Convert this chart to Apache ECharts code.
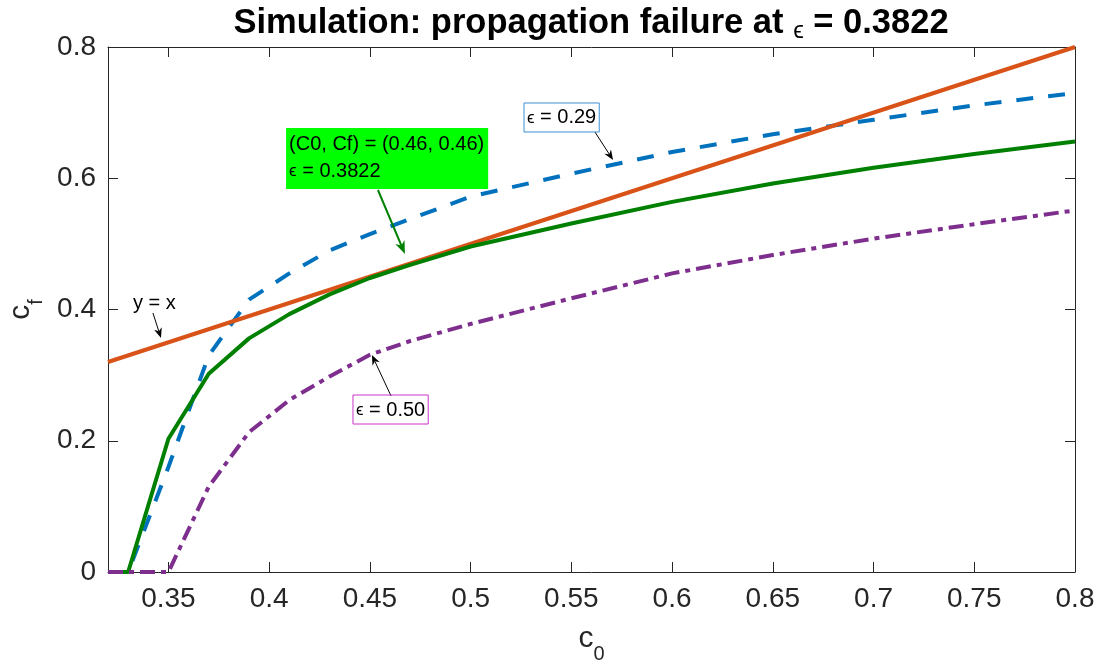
<!DOCTYPE html>
<html>
<head>
<meta charset="utf-8">
<script src="https://cdn.jsdelivr.net/npm/echarts@6/dist/echarts.min.js"></script>
<style>
  html, body { margin: 0; padding: 0; background: #ffffff; }
  #chart { width: 1100px; height: 669px; }
</style>
</head>
<body>
<div id="chart"></div>
<script>
// Initial concentration c0 sampled along the front
const c0 = [0.32, 0.33, 0.35, 0.37, 0.39, 0.41, 0.43, 0.45, 0.47, 0.50, 0.55, 0.60, 0.65, 0.70, 0.75, 0.80];
// Final concentration cf for each coupling strength epsilon
const cfEps029   = [0, 0, 0.160, 0.330, 0.415, 0.455, 0.490, 0.515, 0.538, 0.572, 0.607, 0.640, 0.667, 0.689, 0.711, 0.730];
const cfEps03822 = [0, 0, 0.203, 0.302, 0.356, 0.393, 0.423, 0.448, 0.468, 0.496, 0.531, 0.564, 0.592, 0.616, 0.637, 0.656];
const cfEps050   = [0, 0, 0,     0.130, 0.213, 0.262, 0.298, 0.331, 0.352, 0.378, 0.417, 0.455, 0.483, 0.508, 0.530, 0.551];
// Reference line y = x
const identityX = [0.32, 0.80];

// Axis ticks and their labels
const xTicks = [0.35, 0.40, 0.45, 0.50, 0.55, 0.60, 0.65, 0.70, 0.75, 0.80];
const xTickLabels = ['0.35', '0.4', '0.45', '0.5', '0.55', '0.6', '0.65', '0.7', '0.75', '0.8'];
const yTicks = [0, 0.2, 0.4, 0.6, 0.8];
const yTickLabels = ['0', '0.2', '0.4', '0.6', '0.8'];

const FONT = '"Liberation Sans", Arial, Helvetica, sans-serif';
const AXIS_COLOR = '#262626';
const EPS = '\u03F5';

function pairs(xs, ys) { return xs.map((x, i) => [x, ys[i]]); }
function lookup(ticks, labels) {
  return v => {
    const i = ticks.findIndex(t => Math.abs(t - v) < 1e-9);
    return i >= 0 ? labels[i] : '';
  };
}

const nameRich = {
  c: { fontSize: 30, lineHeight: 30, verticalAlign: 'top', color: AXIS_COLOR, fontFamily: FONT },
  s: { fontSize: 20, lineHeight: 20, padding: [20, 0, 0, 0], verticalAlign: 'top', color: AXIS_COLOR, fontFamily: FONT }
};

const axisLine = { show: true, onZero: false, lineStyle: { color: AXIS_COLOR, width: 1 } };
const labelStyle = { fontSize: 28, color: AXIS_COLOR, fontFamily: FONT };

const chart = echarts.init(document.getElementById('chart'), null, { renderer: 'canvas' });

chart.setOption({
  animation: false,
  backgroundColor: '#ffffff',
  grid: { left: 108, right: 25, top: 47, bottom: 97, containLabel: false, outerBoundsMode: 'none' },
  xAxis: [
    {
      type: 'value', min: 0.32, max: 0.8, position: 'bottom',
      axisLine,
      axisTick: { show: true, inside: true, length: 10, customValues: xTicks, lineStyle: { color: AXIS_COLOR } },
      axisLabel: Object.assign({ customValues: xTicks, margin: 13, formatter: lookup(xTicks, xTickLabels) }, labelStyle),
      splitLine: { show: false },
      name: '{c|c}{s|0}', nameLocation: 'middle', nameGap: 52,
      nameTextStyle: { rich: nameRich }
    },
    {
      type: 'value', min: 0.32, max: 0.8, position: 'top',
      axisLine,
      axisTick: { show: true, inside: true, length: 10, customValues: xTicks, lineStyle: { color: AXIS_COLOR } },
      axisLabel: { show: false },
      splitLine: { show: false }
    }
  ],
  yAxis: [
    {
      type: 'value', min: 0, max: 0.8, interval: 0.2, position: 'left',
      axisLine,
      axisTick: { show: true, inside: true, length: 10, lineStyle: { color: AXIS_COLOR } },
      axisLabel: Object.assign({ margin: 12, formatter: lookup(yTicks, yTickLabels) }, labelStyle),
      splitLine: { show: false },
      name: '{c|c}{s|f}', nameLocation: 'middle', nameGap: 56, nameRotate: 90,
      nameTextStyle: { rich: nameRich }
    },
    {
      type: 'value', min: 0, max: 0.8, interval: 0.2, position: 'right',
      axisLine,
      axisTick: { show: true, inside: true, length: 10, lineStyle: { color: AXIS_COLOR } },
      axisLabel: { show: false },
      splitLine: { show: false }
    }
  ],
  series: [
    {
      type: 'line', name: EPS + ' = 0.29', data: pairs(c0, cfEps029),
      symbol: 'none', silent: true,
      lineStyle: { color: '#0072BD', width: 4, type: [17, 15], cap: 'butt' }
    },
    {
      type: 'line', name: 'y = x', data: pairs(identityX, identityX),
      symbol: 'none', silent: true,
      lineStyle: { color: '#D95319', width: 4 }
    },
    {
      type: 'line', name: EPS + ' = 0.3822', data: pairs(c0, cfEps03822),
      symbol: 'none', silent: true,
      lineStyle: { color: '#008000', width: 4 }
    },
    {
      type: 'line', name: EPS + ' = 0.50', data: pairs(c0, cfEps050),
      symbol: 'none', silent: true,
      lineStyle: { color: '#7E2F8E', width: 4, type: [15, 6, 5, 6], cap: 'butt' }
    }
  ]
});

// Annotations, anchored in data coordinates
const toPx = p => chart.convertToPixel({ seriesIndex: 0 }, p);

function arrow(from, to, color, width, headLen, headWidth) {
  const a = toPx(from), b = toPx(to);
  const dx = b[0] - a[0], dy = b[1] - a[1];
  const len = Math.hypot(dx, dy);
  const ux = dx / len, uy = dy / len;
  const px = -uy, py = ux;
  const bx = b[0] - ux * headLen, by = b[1] - uy * headLen;
  const nx = b[0] - ux * headLen * 0.7, ny = b[1] - uy * headLen * 0.7;
  return [
    { type: 'line', silent: true, z: 100,
      shape: { x1: a[0], y1: a[1], x2: nx, y2: ny },
      style: { stroke: color, lineWidth: width } },
    { type: 'polygon', silent: true, z: 100,
      shape: { points: [[b[0], b[1]], [bx + px * headWidth / 2, by + py * headWidth / 2], [nx, ny], [bx - px * headWidth / 2, by - py * headWidth / 2]] },
      style: { fill: color } }
  ];
}

function box(anchor, text, rich, opts) {
  const p = toPx(anchor);
  return {
    type: 'text', silent: true, z: 101, x: p[0], y: p[1],
    style: Object.assign({
      text, rich, align: 'left', verticalAlign: 'top',
      fill: '#000000', font: '20px ' + FONT
    }, opts)
  };
}

const annRich = {
  t: { fontSize: 20, fontFamily: FONT, color: '#000000' },
  e: { fontSize: 17, fontFamily: FONT, color: '#000000' }
};
const greenRich = {
  t: { fontSize: 20, lineHeight: 27, fontFamily: FONT, color: '#000000' },
  e: { fontSize: 17, lineHeight: 27, fontFamily: FONT, color: '#000000' }
};

const elements = [];
// y = x
elements.push(box([0.3324, 0.4237], '{t|y = x}', annRich, {}));
elements.push(...arrow([0.3423, 0.3947], [0.3463, 0.3566], '#000000', 1, 10, 8));
// critical epsilon
elements.push(box([0.4084, 0.6766], '{t|(C0, Cf) = (0.46, 0.46)}\n{e|' + EPS + '}{t| = 0.3822}', greenRich,
  { backgroundColor: '#00FF00', padding: [3, 4, 4, 3] }));
elements.push(...arrow([0.4540, 0.5821], [0.4674, 0.4846], '#008000', 2, 13, 10));
// epsilon = 0.29
elements.push(box([0.5265, 0.7147], '{e|' + EPS + '}{t| = 0.29}', annRich,
  { borderColor: '#3D8FD1', borderWidth: 1, padding: [5, 3, 4, 3] }));
elements.push(...arrow([0.5617, 0.6705], [0.5707, 0.6278], '#000000', 1, 10, 8));
// epsilon = 0.50
elements.push(box([0.4416, 0.2697], '{e|' + EPS + '}{t| = 0.50}', annRich,
  { borderColor: '#CC33CC', borderWidth: 1, padding: [5, 3, 4, 3] }));
elements.push(...arrow([0.4605, 0.2682], [0.4510, 0.3307], '#000000', 1, 10, 8));

// Title
elements.push({
  type: 'text', silent: true, z: 101, x: 591, y: 3,
  style: {
    text: '{b|Simulation: propagation failure at }{e|' + EPS + '}{b| = 0.3822}',
    align: 'center', verticalAlign: 'top',
    rich: {
      b: { fontSize: 34.5, fontWeight: 'bold', lineHeight: 40, fontFamily: FONT, color: '#000000' },
      e: { fontSize: 24, lineHeight: 34, verticalAlign: 'bottom', fontFamily: FONT, color: '#000000' }
    }
  }
});

chart.setOption({ graphic: { elements } });
</script>
</body>
</html>
